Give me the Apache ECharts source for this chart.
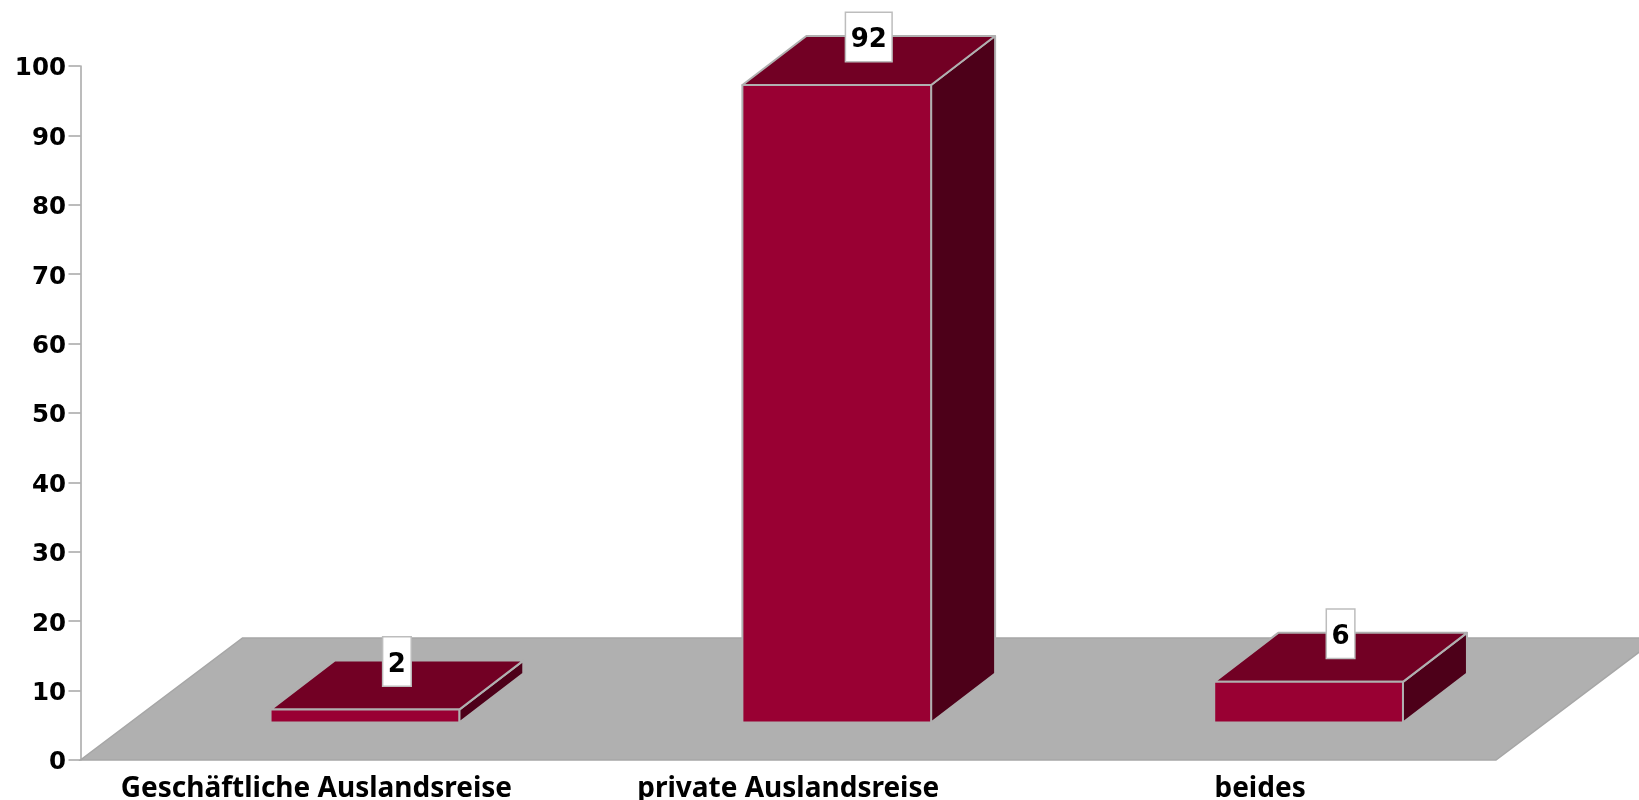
<!DOCTYPE html>
<html><head><meta charset="utf-8">
<style>html,body{margin:0;padding:0;background:#fff}#c{width:1639px;height:800px}</style>
<script src="https://cdn.jsdelivr.net/npm/echarts@6/dist/echarts.min.js"></script>
</head><body><div id="c"></div>
<script>
const categories = ['Geschäftliche Auslandsreise', 'private Auslandsreise', 'beides'];
const values = [2, 92, 6];
const FLOOR_DX = 162, FLOOR_DY = 122, BAR_DX = 64, BAR_DY = 49, INSET_X = 48.5, INSET_Y = 37.5;
const GRAY = '#b0b0b0', EDGE = '#a6a6a6';
const chart = echarts.init(document.getElementById('c'), null, {renderer: 'canvas'});
function floorItem(params, api) {
  const cs = params.coordSys;
  const l = cs.x, r = cs.x + cs.width, b = cs.y + cs.height;
  return {type: 'polygon', silent: true,
    shape: {points: [[l, b], [r, b], [r + FLOOR_DX, b - FLOOR_DY], [l + FLOOR_DX, b - FLOOR_DY]]},
    style: {fill: GRAY, stroke: EDGE, lineWidth: 1.5}};
}
function barItem(params, api) {
  const idx = api.value(0), val = api.value(1);
  const p0 = api.coord([idx, 0]), p1 = api.coord([idx, val]);
  const w = api.size([1, 0])[0] * 0.4;
  const xl = p0[0] + INSET_X - w / 2, xr = xl + w;
  const yb = p0[1] - INSET_Y, yt = p1[1] - INSET_Y + 1;
  const st = f => ({fill: f, stroke: GRAY, lineWidth: 2, lineJoin: 'round'});
  return {type: 'group', children: [
    {type: 'polygon', shape: {points: [[xr, yt], [xr + BAR_DX, yt - BAR_DY], [xr + BAR_DX, yb - BAR_DY], [xr, yb]]}, style: st('#4d0019')},
    {type: 'polygon', shape: {points: [[xl, yt], [xl + BAR_DX, yt - BAR_DY], [xr + BAR_DX, yt - BAR_DY], [xr, yt]]}, style: st('#720024')},
    {type: 'rect', shape: {x: xl, y: yt, width: w, height: yb - yt}, style: st('#990033')},
    {type: 'text', z2: 10, style: {
      text: String(val), x: (xl + xr) / 2 + BAR_DX / 2, y: yt - BAR_DY - 23, align: 'center', verticalAlign: 'top',
      font: 'bold 26px "DejaVu Sans"', fill: '#000', lineHeight: 29,
      backgroundColor: '#fff', borderColor: '#bdbdbd', borderWidth: 1.5, padding: [13, 4.5, 6, 4.5]}}
  ]};
}
chart.setOption({
  animation: false,
  backgroundColor: '#fff',
  grid: {left: 80.5, right: 143, top: 66, bottom: 40, containLabel: false, outerBoundsMode: 'none'},
  xAxis: {type: 'category', data: categories, boundaryGap: true,
    axisLine: {show: false}, axisTick: {show: false}, splitLine: {show: false},
    axisLabel: {margin: 15, color: '#000', fontFamily: 'Noto Sans', fontWeight: 'bold', fontSize: 28, interval: 0}},
  yAxis: {type: 'value', min: 0, max: 100, interval: 10, splitLine: {show: false},
    axisLine: {show: true, lineStyle: {color: EDGE, width: 1.5}},
    axisTick: {show: true, length: 12, lineStyle: {color: EDGE, width: 1.5}},
    axisLabel: {margin: 14.5, color: '#000', fontFamily: 'DejaVu Sans', fontWeight: 'bold', fontSize: 24.5, verticalAlign: 'top', lineHeight: 6}},
  series: [
    {type: 'custom', name: 'floor', clip: false, z: 1, silent: true, renderItem: floorItem, data: [[0, 0]], encode: {x: 0, y: 1}},
    {type: 'custom', name: 'bars', clip: false, z: 3, renderItem: barItem,
      data: values.map((v, i) => [i, v]), encode: {x: 0, y: 1}}
  ]
});
</script></body></html>
